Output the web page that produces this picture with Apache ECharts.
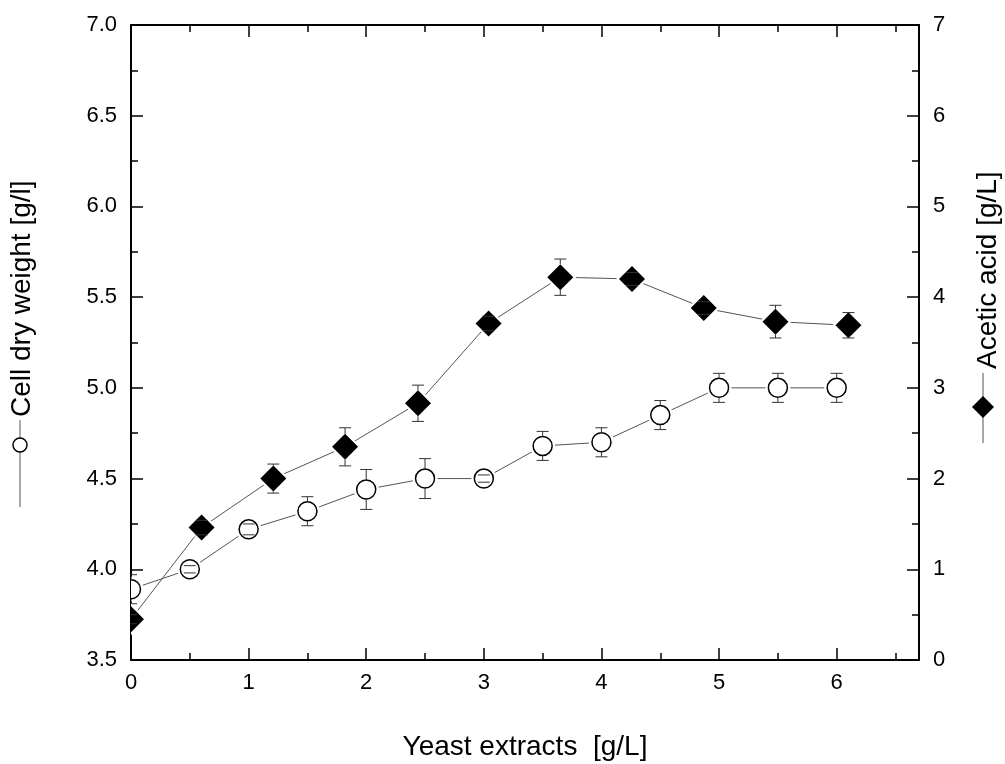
<!DOCTYPE html>
<html>
<head>
<meta charset="utf-8">
<script src="https://cdn.jsdelivr.net/npm/echarts@6/dist/echarts.min.js"></script>
<style>
  html, body { margin: 0; padding: 0; background: #fff; }
  #chart { width: 1005px; height: 764px; }
</style>
</head>
<body>
<div id="chart"></div>
<script>
// Cell dry weight (left axis), open circles
const cellX = [0, 0.5, 1, 1.5, 2, 2.5, 3, 3.5, 4, 4.5, 5, 5.5, 6];
const cellY = [3.89, 4.00, 4.22, 4.32, 4.44, 4.50, 4.50, 4.68, 4.70, 4.85, 5.00, 5.00, 5.00];
const cellErr = [0.08, 0.02, 0.03, 0.08, 0.11, 0.11, 0.02, 0.08, 0.08, 0.08, 0.08, 0.08, 0.08];

// Acetic acid (right axis), filled diamonds
const acidX = [0, 0.60, 1.21, 1.82, 2.44, 3.04, 3.65, 4.26, 4.87, 5.48, 6.10];
const acidY = [0.45, 1.46, 2.00, 2.35, 2.83, 3.71, 4.22, 4.20, 3.88, 3.73, 3.69];
const acidErr = [0.05, 0.08, 0.16, 0.21, 0.20, 0.08, 0.20, 0.07, 0.07, 0.18, 0.14];

// Tick positions
const xMajor = [0, 1, 2, 3, 4, 5, 6];
const xMinor = [0.5, 1.5, 2.5, 3.5, 4.5, 5.5, 6.5];

const FONT = '"Liberation Sans", Arial, sans-serif';

const cellData = cellX.map((x, i) => [x, cellY[i], cellErr[i]]);
const acidData = acidX.map((x, i) => [x, acidY[i], acidErr[i]]);

const diamond = (cx, cy, r) => [[cx - r, cy], [cx, cy - r], [cx + r, cy], [cx, cy + r]];

// Marker + error bar drawn with the series' own axes
const makeRender = (kind) => (params, api) => {
  const x = api.value(0), y = api.value(1), e = api.value(2);
  const c = api.coord([x, y]);
  const top = api.coord([x, y + e])[1];
  const bot = api.coord([x, y - e])[1];
  const r = kind === 'circle' ? 9.5 : 13;
  const cap = 6;
  const bar = { stroke: '#333', lineWidth: 1 };
  const children = [];

  if (kind === 'circle') {
    children.push({ type: 'circle', shape: { cx: c[0], cy: c[1], r: r + 3 }, style: { fill: '#fff' } });
    children.push({ type: 'circle', shape: { cx: c[0], cy: c[1], r: r }, style: { fill: '#fff', stroke: '#000', lineWidth: 1.5 } });
  } else {
    children.push({ type: 'polygon', shape: { points: diamond(c[0], c[1], r + 3) }, style: { fill: '#fff' } });
    children.push({ type: 'polygon', shape: { points: diamond(c[0], c[1], r) }, style: { fill: '#000' } });
  }

  if (c[1] - top > r) {
    children.push({ type: 'line', shape: { x1: c[0], y1: c[1] - r, x2: c[0], y2: top }, style: bar });
    children.push({ type: 'line', shape: { x1: c[0], y1: bot, x2: c[0], y2: c[1] + r }, style: bar });
  }
  children.push({ type: 'line', shape: { x1: c[0] - cap, y1: top, x2: c[0] + cap, y2: top }, style: bar });
  children.push({ type: 'line', shape: { x1: c[0] - cap, y1: bot, x2: c[0] + cap, y2: bot }, style: bar });

  return { type: 'group', children };
};

const axisLine = { show: true, onZero: false, lineStyle: { color: '#000', width: 2 } };

const xAxisBase = (position, ticks, len, withLine) => ({
  type: 'value',
  position: position,
  min: 0,
  max: 6.7,
  axisLine: withLine ? axisLine : { show: false },
  axisTick: { show: true, inside: true, length: len, customValues: ticks, lineStyle: { color: '#000', width: 1.5 } },
  axisLabel: { show: false },
  splitLine: { show: false }
});

const xBottom = xAxisBase('bottom', xMajor, 12, true);
xBottom.axisLabel = {
  show: true,
  customValues: xMajor,
  margin: 12,
  color: '#000',
  fontSize: 22,
  fontFamily: FONT
};
xBottom.name = 'Yeast extracts  [g/L]';
xBottom.nameLocation = 'middle';
xBottom.nameGap = 73;
xBottom.nameTextStyle = { color: '#000', fontSize: 28, fontFamily: FONT };

const yAxisBase = (position, min, max, interval, fmt) => ({
  type: 'value',
  position: position,
  min: min,
  max: max,
  interval: interval,
  axisLine: axisLine,
  axisTick: { show: true, inside: true, length: 12, lineStyle: { color: '#000', width: 1.5 } },
  minorTick: { show: true, splitNumber: 2, length: 7, lineStyle: { color: '#000', width: 1.5 } },
  axisLabel: { show: true, margin: 14, color: '#000', fontSize: 22, fontFamily: FONT, formatter: fmt },
  splitLine: { show: false }
});

const option = {
  animation: false,
  backgroundColor: '#fff',
  grid: { left: 131, right: 86, top: 25, bottom: 104, containLabel: false, outerBoundsMode: 'none' },
  xAxis: [
    xBottom,
    xAxisBase('bottom', xMinor, 7, false),
    xAxisBase('top', xMajor, 12, true),
    xAxisBase('top', xMinor, 7, false)
  ],
  yAxis: [
    yAxisBase('left', 3.5, 7, 0.5, (v) => v.toFixed(1)),
    yAxisBase('right', 0, 7, 1, (v) => String(v))
  ],
  graphic: [
    {
      type: 'group', x: 20, y: 507, rotation: Math.PI / 2,
      children: [
        { type: 'line', shape: { x1: 0, y1: 0, x2: 87, y2: 0 }, style: { stroke: '#555', lineWidth: 1 } },
        { type: 'circle', shape: { cx: 62, cy: 0, r: 7 }, style: { fill: '#fff', stroke: '#000', lineWidth: 1.5 } },
        { type: 'text', x: 90, y: 2, style: { text: 'Cell dry weight [g/l]', font: '28px ' + FONT, fill: '#000', align: 'left', verticalAlign: 'middle' } }
      ]
    },
    {
      type: 'group', x: 983, y: 443, rotation: Math.PI / 2,
      children: [
        { type: 'line', shape: { x1: 0, y1: 0, x2: 70, y2: 0 }, style: { stroke: '#555', lineWidth: 1 } },
        { type: 'polygon', shape: { points: diamond(36, 0, 11) }, style: { fill: '#000' } },
        { type: 'text', x: 74, y: 5, style: { text: 'Acetic acid [g/L]', font: '28px ' + FONT, fill: '#000', align: 'left', verticalAlign: 'middle' } }
      ]
    }
  ],
  series: [
    {
      name: 'Cell dry weight',
      type: 'line',
      xAxisIndex: 0,
      yAxisIndex: 0,
      data: cellData.map(d => [d[0], d[1]]),
      showSymbol: false,
      lineStyle: { color: '#555', width: 1 },
      z: 2
    },
    {
      name: 'Acetic acid',
      type: 'line',
      xAxisIndex: 0,
      yAxisIndex: 1,
      data: acidData.map(d => [d[0], d[1]]),
      showSymbol: false,
      lineStyle: { color: '#555', width: 1 },
      z: 2
    },
    {
      type: 'custom',
      xAxisIndex: 0,
      yAxisIndex: 0,
      data: cellData,
      clip: true,
      renderItem: makeRender('circle'),
      z: 3
    },
    {
      type: 'custom',
      xAxisIndex: 0,
      yAxisIndex: 1,
      data: acidData,
      clip: true,
      renderItem: makeRender('diamond'),
      z: 3
    }
  ]
};

const chart = echarts.init(document.getElementById('chart'), null, { renderer: 'canvas' });
chart.setOption(option);
</script>
</body>
</html>
